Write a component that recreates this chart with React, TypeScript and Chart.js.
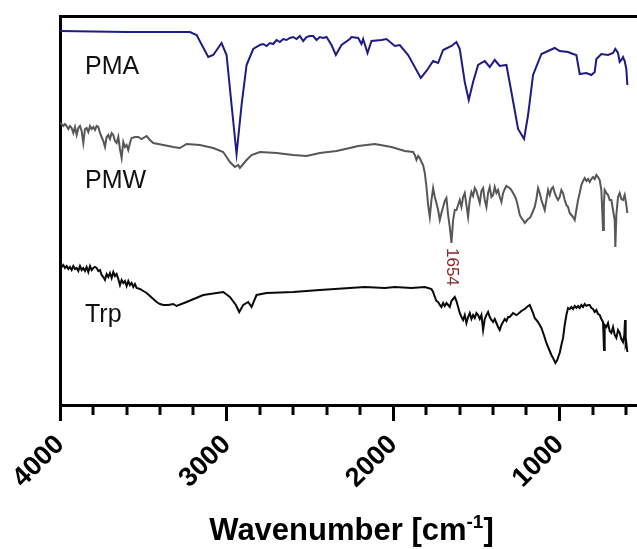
import React, { useEffect, useRef } from 'react';
import { Chart, registerables } from 'chart.js';

Chart.register(...registerables);

// ---- Axis ticks (wavenumber, cm-1) ----
const majorTicks = [4000, 3000, 2000, 1000];
const minorTicks = [3800, 3600, 3400, 3200, 2800, 2600, 2400, 2200, 1800, 1600, 1400, 1200, 800, 600];

// ---- PMA spectrum (offset transmittance, arbitrary units) ----
const pmaWavenumber = [4000, 3600, 3220, 3180, 3110, 3080, 3030, 3000, 2970, 2940, 2910, 2880, 2840, 2800, 2780, 2760, 2740, 2720, 2700, 2680, 2660, 2640, 2620, 2600, 2580, 2560, 2540, 2520, 2500, 2480, 2460, 2440, 2420, 2400, 2370, 2344, 2310, 2260, 2250, 2210, 2190, 2180, 2154, 2130, 2070, 2040, 1990, 1960, 1910, 1834, 1800, 1760, 1730, 1700, 1650, 1620, 1600, 1570, 1546, 1520, 1490, 1450, 1420, 1390, 1360, 1320, 1290, 1250, 1214, 1190, 1160, 1110, 1030, 1000, 950, 920, 900, 880, 840, 810, 790, 780, 750, 710, 680, 666, 650, 640, 630, 620, 610, 600, 594];
const pmaValue = [374, 373, 373, 370, 348, 350, 362, 350, 300, 251, 300, 340, 356, 360, 361, 359, 362, 361, 365, 363, 366, 365, 367, 368, 366, 369, 364, 368, 369, 369, 365, 368, 367, 368, 360, 350, 360, 366, 368, 367, 361, 366, 352, 364, 365, 366, 359, 360, 350, 327, 334, 344, 342, 355, 359, 363, 356, 323, 305, 323, 340, 344, 338, 345, 339, 340, 313, 276, 266, 290, 330, 351, 357, 354, 353, 351, 350, 331, 332, 330, 333, 346, 351, 350, 352, 356, 352, 343, 345, 348, 344, 336, 320];

// ---- PMW spectrum ----
const pmwWavenumber = [4000, 3990, 3980, 3970, 3960, 3950, 3940, 3930, 3920, 3910, 3900, 3890, 3880, 3870, 3860, 3850, 3840, 3830, 3820, 3810, 3800, 3790, 3780, 3770, 3760, 3750, 3740, 3730, 3720, 3710, 3700, 3690, 3680, 3670, 3660, 3650, 3640, 3630, 3620, 3610, 3600, 3590, 3580, 3570, 3550, 3530, 3510, 3480, 3460, 3440, 3380, 3320, 3280, 3240, 3160, 3080, 3020, 2980, 2950, 2930, 2920, 2880, 2850, 2800, 2700, 2600, 2520, 2440, 2340, 2260, 2210, 2110, 2010, 1930, 1880, 1870, 1860, 1850, 1840, 1830, 1820, 1810, 1800, 1790, 1780, 1770, 1760, 1750, 1740, 1730, 1720, 1710, 1700, 1690, 1680, 1670, 1660, 1650, 1640, 1630, 1620, 1610, 1600, 1590, 1580, 1570, 1560, 1550, 1540, 1530, 1520, 1510, 1500, 1490, 1480, 1470, 1460, 1450, 1440, 1430, 1420, 1410, 1400, 1390, 1380, 1370, 1360, 1350, 1340, 1330, 1320, 1310, 1300, 1290, 1280, 1270, 1260, 1250, 1240, 1230, 1220, 1210, 1200, 1190, 1180, 1170, 1160, 1150, 1140, 1130, 1120, 1110, 1100, 1090, 1080, 1070, 1060, 1050, 1040, 1030, 1020, 1010, 1000, 990, 980, 970, 960, 950, 940, 930, 920, 910, 900, 890, 880, 870, 860, 850, 840, 830, 820, 810, 800, 790, 780, 770, 760, 750, 745, 740, 735, 730, 720, 710, 700, 690, 680, 670, 666, 660, 650, 640, 630, 620, 610, 600, 594];
const pmwValue = [282, 281, 279, 281, 279, 276, 279, 277, 272, 278, 270, 277, 279, 274, 262, 276, 277, 273, 279, 276, 278, 275, 279, 278, 272, 268, 264, 258, 268, 270, 266, 272, 270, 264, 262, 268, 256, 247, 263, 258, 260, 255, 262, 267, 268, 268, 266, 269, 265, 262, 260, 258, 257, 261, 260, 257, 253, 243, 238, 240, 237, 245, 250, 253, 252, 250, 249, 252, 254, 257, 259, 261, 258, 254, 253, 250, 245, 249, 247, 243, 240, 232, 218, 200, 188, 205, 217, 208, 202, 195, 185, 192, 198, 204, 207, 190, 178, 162, 185, 195, 195, 200, 205, 198, 208, 212, 200, 188, 205, 213, 209, 217, 214, 208, 202, 214, 217, 205, 198, 212, 218, 208, 210, 218, 212, 215, 208, 203, 212, 216, 219, 218, 217, 215, 212, 209, 205, 198, 190, 187, 185, 182, 184, 186, 187, 190, 194, 198, 206, 217, 212, 205, 200, 195, 205, 215, 210, 216, 218, 212, 208, 205, 208, 215, 212, 205, 200, 198, 192, 190, 188, 185, 195, 205, 212, 220, 224, 227, 224, 226, 223, 226, 228, 226, 230, 228, 225, 215, 195, 175, 200, 215, 212, 210, 205, 205, 195, 185, 158, 190, 208, 212, 206, 205, 210, 200, 192];

// ---- Trp spectrum ----
const trpWavenumber = [4000, 3990, 3980, 3970, 3960, 3950, 3940, 3930, 3920, 3910, 3900, 3890, 3880, 3870, 3860, 3850, 3840, 3830, 3820, 3810, 3800, 3790, 3780, 3770, 3760, 3750, 3740, 3730, 3720, 3710, 3700, 3690, 3680, 3670, 3660, 3650, 3640, 3630, 3620, 3610, 3600, 3590, 3580, 3570, 3560, 3550, 3540, 3520, 3500, 3480, 3460, 3440, 3420, 3400, 3380, 3350, 3320, 3300, 3240, 3140, 3020, 2980, 2944, 2924, 2900, 2870, 2850, 2820, 2760, 2600, 2440, 2260, 2170, 2050, 1990, 1890, 1810, 1790, 1770, 1760, 1750, 1740, 1730, 1720, 1710, 1700, 1690, 1680, 1670, 1660, 1650, 1640, 1630, 1620, 1610, 1600, 1590, 1580, 1570, 1560, 1550, 1540, 1530, 1520, 1510, 1500, 1490, 1480, 1470, 1460, 1450, 1440, 1430, 1420, 1410, 1400, 1390, 1380, 1370, 1360, 1350, 1340, 1330, 1320, 1310, 1300, 1280, 1260, 1250, 1230, 1210, 1190, 1180, 1170, 1160, 1150, 1130, 1110, 1095, 1080, 1065, 1050, 1040, 1026, 1015, 1005, 1000, 990, 980, 970, 960, 950, 940, 930, 920, 910, 900, 890, 880, 870, 860, 850, 840, 830, 820, 810, 800, 790, 780, 770, 760, 750, 740, 734, 730, 720, 710, 700, 690, 680, 670, 660, 650, 640, 630, 620, 612, 608, 604, 600, 594];
const trpValue = [141, 138, 140, 137, 139, 136, 138, 135, 139, 136, 137, 134, 139, 135, 137, 134, 138, 133, 139, 135, 137, 138, 137, 134, 135, 130, 128, 125, 131, 128, 132, 127, 133, 129, 131, 126, 120, 125, 122, 124, 119, 124, 120, 122, 118, 121, 117, 116, 114, 112, 109, 106, 103, 101, 100, 100, 101, 99, 103, 110, 113, 108, 100, 93, 100, 103, 98, 110, 112, 113, 115, 117, 118, 117, 118, 117, 118, 117, 116, 113, 108, 104, 103, 100, 98, 102, 99, 102, 100, 98, 104, 106, 108, 104, 98, 92, 88, 85, 90, 82, 88, 92, 86, 90, 87, 92, 90, 86, 90, 75, 86, 90, 93, 88, 85, 83, 86, 82, 78, 75, 80, 83, 86, 84, 88, 88, 92, 90, 91, 94, 96, 99, 100, 96, 92, 87, 83, 77, 70, 62, 56, 50, 47, 42, 45, 50, 52, 60, 67, 80, 90, 97, 96, 98, 96, 99, 97, 99, 97, 100, 98, 101, 99, 100, 100, 97, 96, 93, 95, 91, 90, 86, 83, 55, 80, 78, 82, 74, 72, 78, 70, 67, 75, 72, 66, 63, 70, 85, 60, 62, 53];

// ---- Annotations ----
const seriesNames = ['PMA', 'PMW', 'Trp'];
const seriesColors = ['#1c1c84', '#575757', '#0a0a0a'];
const nameWavenumber = [3850, 3850, 3850];
const nameValue = [331, 217, 83];
const peakText = '1654';
const peakWavenumber = 1650;
const peakValue = 160;

const FONT = '"Liberation Sans", Arial, Helvetica, sans-serif';

const toPoints = (xs: number[], ys: number[]) => xs.map((x, i) => ({ x, y: ys[i] }));

const decorations = {
  id: 'decorations',
  afterDatasetsDraw(chart: any) {
    const { ctx, scales } = chart;
    const xs = scales.x;
    const ys = scales.y;
    ctx.save();
    ctx.fillStyle = '#111';
    ctx.font = `25px ${FONT}`;
    ctx.textAlign = 'left';
    ctx.textBaseline = 'alphabetic';
    seriesNames.forEach((name, i) => {
      ctx.fillText(name, xs.getPixelForValue(nameWavenumber[i]), ys.getPixelForValue(nameValue[i]));
    });
    ctx.save();
    ctx.translate(xs.getPixelForValue(peakWavenumber), ys.getPixelForValue(peakValue));
    ctx.rotate(Math.PI / 2);
    ctx.fillStyle = '#8b2525';
    ctx.font = `17px ${FONT}`;
    ctx.textAlign = 'left';
    ctx.textBaseline = 'middle';
    ctx.fillText(peakText, 3, 0);
    ctx.restore();
    ctx.restore();
  },
  afterDraw(chart: any) {
    const { ctx, chartArea, scales } = chart;
    const xs = scales.x;
    ctx.save();
    ctx.strokeStyle = '#000';
    ctx.lineWidth = 3;
    minorTicks.forEach((v) => {
      const px = Math.round(xs.getPixelForValue(v));
      ctx.beginPath();
      ctx.moveTo(px, chartArea.bottom);
      ctx.lineTo(px, chartArea.bottom + 10);
      ctx.stroke();
    });
    const main = 'Wavenumber [cm';
    const sup = '-1';
    const end = ']';
    const bold = `bold 31px ${FONT}`;
    const supFont = `bold 19px ${FONT}`;
    ctx.font = bold;
    const w1 = ctx.measureText(main).width;
    const w3 = ctx.measureText(end).width;
    ctx.font = supFont;
    const w2 = ctx.measureText(sup).width;
    const total = w1 + w2 + w3;
    const cx = (chartArea.left + chartArea.right) / 2;
    const baseY = xs.bottom - 9;
    let x = cx - total / 2;
    ctx.fillStyle = '#000';
    ctx.textAlign = 'left';
    ctx.textBaseline = 'alphabetic';
    ctx.font = bold;
    ctx.fillText(main, x, baseY);
    x += w1;
    ctx.font = supFont;
    ctx.fillText(sup, x, baseY - 12);
    x += w2;
    ctx.font = bold;
    ctx.fillText(end, x, baseY);
    ctx.restore();
  },
};

export default function App() {
  const canvasRef = useRef<HTMLCanvasElement | null>(null);

  useEffect(() => {
    const canvas = canvasRef.current;
    if (!canvas) return;
    const chart = new Chart(canvas, {
      type: 'line',
      data: {
        datasets: [
          { label: 'PMA', data: toPoints(pmaWavenumber, pmaValue), borderColor: seriesColors[0], borderWidth: 2, pointRadius: 0, tension: 0 },
          { label: 'PMW', data: toPoints(pmwWavenumber, pmwValue), borderColor: seriesColors[1], borderWidth: 2, pointRadius: 0, tension: 0 },
          { label: 'Trp', data: toPoints(trpWavenumber, trpValue), borderColor: seriesColors[2], borderWidth: 2, pointRadius: 0, tension: 0 },
        ],
      },
      options: {
        responsive: false,
        animation: false,
        devicePixelRatio: 1,
        layout: { padding: { left: 60, top: 16, right: 17, bottom: 0 } },
        plugins: { legend: { display: false }, tooltip: { enabled: false }, title: { display: false } },
        scales: {
          x: {
            type: 'linear',
            position: 'bottom',
            reverse: true,
            min: 500,
            max: 4000,
            afterBuildTicks: (s: any) => {
              s.ticks = majorTicks.map((v) => ({ value: v }));
            },
            afterFit: (s: any) => {
              s.height = 144;
            },
            grid: { display: true, drawOnChartArea: false, drawTicks: true, tickLength: 16, tickWidth: 3, tickColor: '#000' },
            border: { display: true, width: 3, color: '#000' },
            ticks: {
              autoSkip: false,
              minRotation: 45,
              maxRotation: 45,
              padding: 8,
              color: '#000',
              font: { family: FONT, size: 27, weight: 'bold' },
              callback: (v: any) => String(v),
            },
          },
          xTop: {
            type: 'linear',
            position: 'top',
            reverse: true,
            min: 500,
            max: 4000,
            afterFit: (s: any) => {
              s.height = 0;
            },
            grid: { display: false },
            border: { display: true, width: 3, color: '#000' },
            ticks: { display: false },
          },
          y: {
            type: 'linear',
            min: 0,
            max: 389,
            afterFit: (s: any) => {
              s.width = 0;
            },
            grid: { display: false },
            border: { display: true, width: 3, color: '#000' },
            ticks: { display: false },
          },
        },
      },
      plugins: [decorations],
    } as any);
    return () => chart.destroy();
  }, []);

  return (
    <div style={{ position: 'fixed', left: 0, top: 0, width: 637, height: 549, overflow: 'hidden', background: '#fff' }}>
      <canvas ref={canvasRef} width={660} height={549} style={{ display: 'block' }} />
    </div>
  );
}
